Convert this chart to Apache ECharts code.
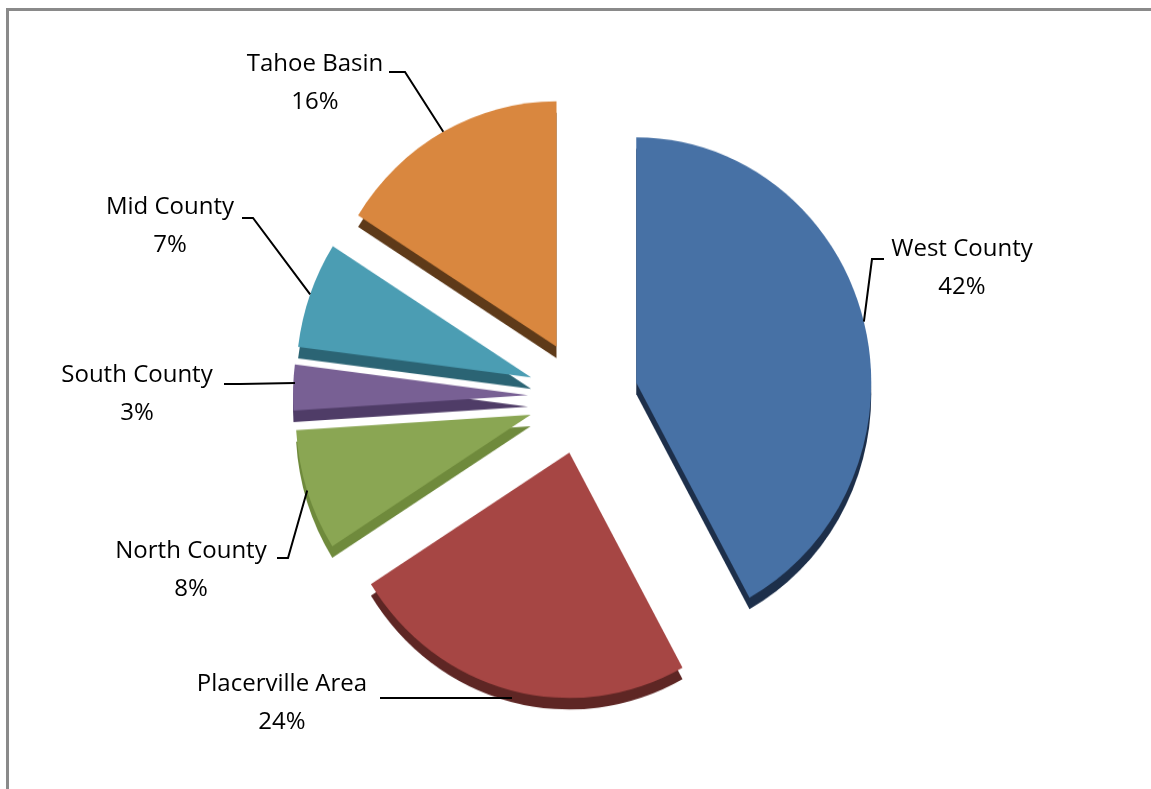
<!DOCTYPE html>
<html>
<head>
<meta charset="utf-8">
<script src="https://cdn.jsdelivr.net/npm/echarts@6/dist/echarts.min.js"></script>
<style>
  html, body { margin: 0; padding: 0; background: #fff; overflow: hidden; }
  #pie, #labels { position: absolute; left: 0; top: 0; width: 1151px; height: 789px; }
  #pie { transform: scaleY(1.044); transform-origin: 0 397px; }
  #frame { position: absolute; left: 6px; top: 8px; width: 1160px; height: 800px;
           border-top: 3px solid #8a8a8a; border-left: 3px solid #8a8a8a; pointer-events: none; }
</style>
</head>
<body>
<div id="pie"></div>
<div id="labels"></div>
<div id="frame"></div>
<script>
// ---- data ----
const categories = ['West County', 'Placerville Area', 'North County', 'South County', 'Mid County', 'Tahoe Basin'];
const values = [42, 24, 8, 3, 7, 16];

// ---- styles ----
const topColors  = ['#4771A5', '#A64644', '#8AA653', '#786094', '#4B9DB3', '#D9873F'];
const sideColors = ['#1D2F4A', '#5E2624', '#6F8A3C', '#4F3C67', '#2B6474', '#5E3A19'];

// label layout (center of each two-line label, elbow of the leader line, end near text)
const labelCfg = [
  { x: 962, y: 268, elbow: [872, 259], end: [884, 259] },
  { x: 282, y: 703, elbow: [445, 698], end: [380, 698], start: [512, 698] },
  { x: 191, y: 570, elbow: [288, 558], end: [277, 558] },
  { x: 137, y: 394, elbow: [240, 384], end: [224, 384], start: [295, 383] },
  { x: 170, y: 226, elbow: [253, 218], end: [242, 218] },
  { x: 315, y: 83,  elbow: [405, 72],  end: [389, 72] }
];

const CENTER = [583, 397];
const RADIUS = 235;
const OFFSET = 55;
const DEPTH = 11;
const TILT = 1.044;   // vertical stretch of the perspective view

const pieChart = echarts.init(document.getElementById('pie'), null, { renderer: 'canvas' });
const labelChart = echarts.init(document.getElementById('labels'), null, { renderer: 'canvas' });

const sideData = categories.map((c, i) => ({
  name: c, value: values[i], selected: true, itemStyle: { color: sideColors[i] }
}));
const topData = categories.map((c, i) => ({
  name: c, value: values[i], selected: true, itemStyle: { color: topColors[i] }
}));
const labelData = categories.map((c, i) => ({ name: c, value: values[i] }));

const pieBase = {
  type: 'pie',
  silent: true,
  radius: RADIUS,
  startAngle: 90,
  clockwise: true,
  emphasis: { disabled: true }
};

pieChart.setOption({
  animation: false,
  series: [
    Object.assign({}, pieBase, {
      center: [CENTER[0], CENTER[1] + DEPTH],
      selectedMode: 'multiple',
      selectedOffset: OFFSET,
      label: { show: false },
      labelLine: { show: false },
      data: sideData,
      z: 1
    }),
    Object.assign({}, pieBase, {
      center: CENTER,
      selectedMode: 'multiple',
      selectedOffset: OFFSET,
      label: { show: false },
      labelLine: { show: false },
      data: topData,
      z: 2
    })
  ]
});

labelChart.setOption({
  animation: false,
  series: [
    Object.assign({}, pieBase, {
      center: CENTER,
      itemStyle: { color: 'rgba(0,0,0,0)' },
      label: {
        show: true,
        position: 'outside',
        formatter: '{b}\n{d}%',
        fontFamily: 'Open Sans',
        fontSize: 24,
        lineHeight: 38,
        color: '#000',
        align: 'center'
      },
      labelLine: {
        show: true,
        length: 20,
        length2: 20,
        lineStyle: { color: '#000', width: 2 }
      },
      labelLayout: function (params) {
        const cfg = labelCfg[params.dataIndex];
        let p0 = cfg.start;
        if (!p0) {
          const q = params.labelLinePoints[0];
          const dx = q[0] - CENTER[0], dy = q[1] - CENTER[1];
          const len = Math.sqrt(dx * dx + dy * dy) || 1;
          const px = q[0] + dx / len * OFFSET;
          const py = q[1] + dy / len * OFFSET;
          p0 = [px, CENTER[1] + (py - CENTER[1]) * TILT];
        }
        return {
          x: cfg.x,
          y: cfg.y,
          align: 'center',
          verticalAlign: 'middle',
          labelLinePoints: [p0, cfg.elbow, cfg.end]
        };
      },
      data: labelData
    })
  ]
});
</script>
</body>
</html>
